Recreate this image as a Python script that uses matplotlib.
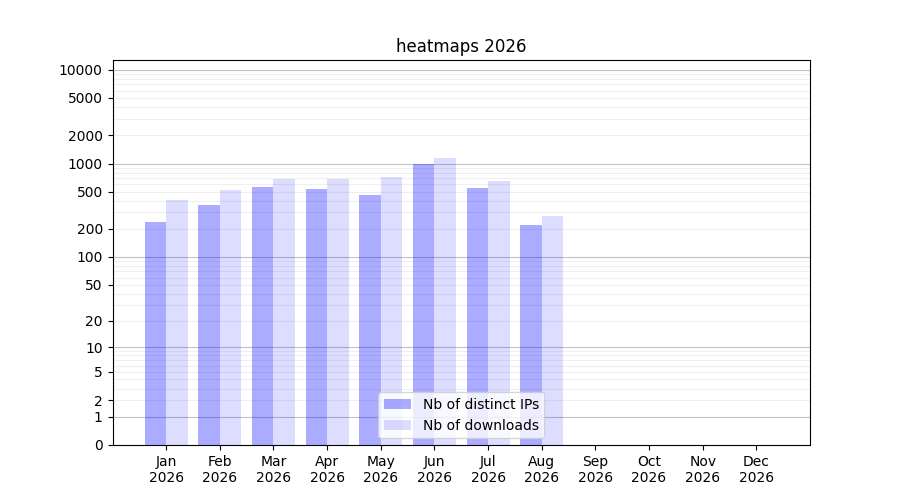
import numpy as np
import matplotlib
matplotlib.use("Agg")
import matplotlib.pyplot as plt

# monthly values
months = ["Jan", "Feb", "Mar", "Apr", "May", "Jun", "Jul", "Aug", "Sep", "Oct", "Nov", "Dec"]
year = "2026"
distinct_ips = [237, 359, 559, 533, 459, 1000, 545, 220, 0, 0, 0, 0]
downloads = [406, 519, 686, 690, 714, 1138, 648, 274, 0, 0, 0, 0]
ytick_values = [0, 1, 2, 5, 10, 20, 50, 100, 200, 500, 1000, 2000, 5000, 10000]


def fwd(y):
    return np.log10(np.asarray(y, dtype=float) + 1)


def inv(v):
    return 10 ** np.asarray(v, dtype=float) - 1


fig, ax = plt.subplots(figsize=(9, 5), dpi=100)
ax.set_yscale("function", functions=(fwd, inv))

x = np.arange(len(months))
w = 0.4
ax.bar(x - w / 2, distinct_ips, width=w, color="blue", alpha=0.33,
       label="Nb of distinct IPs", zorder=2)
ax.bar(x + w / 2, downloads, width=w, color="blue", alpha=0.135,
       label="Nb of downloads", zorder=2)

ax.set_xticks(x)
ax.set_xticklabels([m + "\n" + year for m in months])
ax.set_xlim(-1, 12)

ax.set_ylim(0, 12700)
ax.set_yticks(ytick_values)
ax.set_yticklabels([str(v) for v in ytick_values])
minor = [k * 10 ** n for n in range(0, 5) for k in range(2, 10) if k * 10 ** n < 12700]
ax.set_yticks(minor, minor=True)
ax.tick_params(axis="y", which="minor", length=0)
ax.grid(True, axis="y", which="both", color="0.5", alpha=0.12, linewidth=0.8, zorder=0)
for d in [1, 10, 100, 1000, 10000]:
    ax.axhline(d, color="0.5", alpha=0.4, linewidth=0.8, zorder=1)

ax.set_title("heatmaps " + year)
ax.legend(loc="lower center")

fig.savefig("out.png")
